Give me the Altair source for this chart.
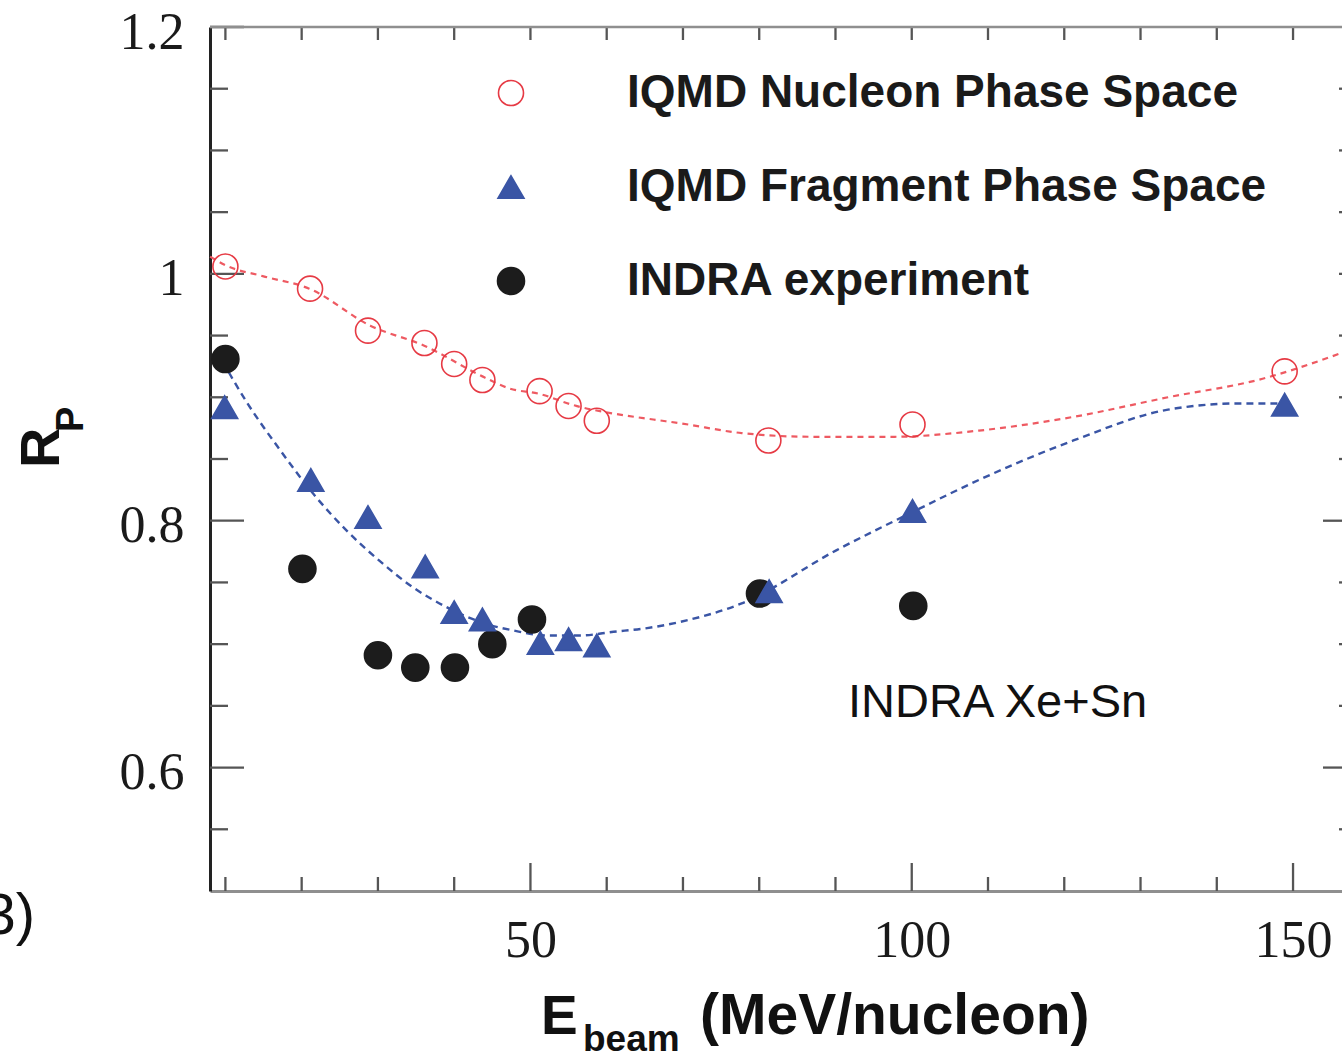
import altair as alt
import pandas as pd

# ---------------- data ----------------
NUC = "IQMD Nucleon Phase Space"
FRAG = "IQMD Fragment Phase Space"
IND = "INDRA experiment"

nuc_x = [10.0, 21.1, 28.7, 36.1, 40.0, 43.7, 51.2, 55.0, 58.7, 81.2, 100.1, 148.9]
nuc_y = [1.006, 0.988, 0.954, 0.944, 0.927, 0.914, 0.905, 0.893, 0.881, 0.865, 0.878, 0.921]

frag_x = [9.9, 21.2, 28.7, 36.2, 40.0, 43.7, 51.3, 55.0, 58.7, 81.3, 100.1, 148.9]
frag_y = [0.892, 0.833, 0.803, 0.763, 0.726, 0.720, 0.701, 0.704, 0.699, 0.743, 0.808, 0.894]

ind_x = [10.0, 20.1, 30.0, 34.9, 40.1, 45.0, 50.2, 80.1, 100.2]
ind_y = [0.931, 0.761, 0.691, 0.681, 0.681, 0.700, 0.720, 0.741, 0.731]

# dashed guide curves
red_curve_x = [8.0, 10.0, 15.0, 21.0, 29.0, 36.0, 44.0, 47.3, 51.0, 56.0, 60.7, 66.1, 69.6,
               77.7, 87.0, 97.5, 108.8, 121.1, 133.6, 146.0, 156.4]
red_curve_y = [1.014, 1.007, 0.998, 0.988, 0.958, 0.942, 0.916, 0.907, 0.903, 0.893, 0.887,
               0.882, 0.879, 0.871, 0.868, 0.868, 0.873, 0.884, 0.900, 0.915, 0.936]

blue_curve_x = [8.9, 12.8, 17.2, 21.5, 25.9, 30.3, 34.6, 39.0, 43.4, 47.8, 52.1, 56.5, 60.9,
                65.3, 69.6, 77.7, 90.1, 100.1, 108.8, 121.2, 133.6, 142.9, 148.5]
blue_curve_y = [0.937, 0.896, 0.857, 0.822, 0.792, 0.767, 0.746, 0.730, 0.718, 0.711, 0.707,
                0.707, 0.710, 0.713, 0.718, 0.733, 0.776, 0.807, 0.833, 0.865, 0.890, 0.895, 0.895]

x_labels = [50, 100, 150]
y_labels = [0.6, 0.8, 1.0, 1.2]
x_minor = [10, 20, 30, 40, 60, 70, 80, 90, 110, 120, 130, 140]
x_major = [50, 100, 150]
y_minor = [0.55, 0.65, 0.7, 0.75, 0.85, 0.9, 0.95, 1.05, 1.1, 1.15]
y_major = [0.6, 0.8, 1.0, 1.2]
y_right_long = [0.6, 0.8]
y_right_short = [0.55, 0.65, 0.7, 0.75, 0.85, 0.9, 0.95, 1.0, 1.05, 1.1, 1.15]

# ---------------- styling ----------------
W, H = 1132, 864
RED = "#e63a44"
RED_LINE = "#ee5a62"
BLUE = "#3a55a5"
BLACK = "#1c1c1c"
TICK = "#555555"
FRAME_GRAY = "#8f8f8f"

xs = alt.Scale(domain=[7.98, 156.42], nice=False, zero=False)
ys = alt.Scale(domain=[0.5, 1.2], nice=False, zero=False)

x_axis = alt.Axis(values=x_labels, title=None, ticks=False, tickSize=0, grid=False,
                  domain=True, domainColor=FRAME_GRAY, domainWidth=3,
                  labelFont="Liberation Serif", labelFontSize=52, labelColor="#1a1a1a",
                  labelPadding=65, labelBaseline="alphabetic", labelFlush=False,
                  labelOverlap=False)
y_axis = alt.Axis(values=y_labels, format="~g", title=None, ticks=False, tickSize=0,
                  grid=False, domain=True, domainColor="#222222", domainWidth=3,
                  labelFont="Liberation Serif", labelFontSize=52, labelColor="#1a1a1a",
                  labelPadding=26, labelBaseline="middle", labelOffset=5,
                  labelFlush=False, labelOverlap=False)


def X(f):
    return alt.X(f, type="quantitative", scale=xs, axis=x_axis)


def Y(f):
    return alt.Y(f, type="quantitative", scale=ys, axis=y_axis)


order = [NUC, FRAG, IND]
pts = pd.DataFrame({
    "x": ind_x + frag_x + nuc_x,
    "y": ind_y + frag_y + nuc_y,
    "series": [IND] * len(ind_x) + [FRAG] * len(frag_x) + [NUC] * len(nuc_x),
})

leg = alt.Legend(orient="none", legendX=278, legendY=43, title=None,
                 labelFont="Liberation Sans", labelFontSize=46, labelFontWeight="bold",
                 labelColor="#1a1a1a", labelLimit=1000, labelOffset=93, rowPadding=48,
                 symbolStrokeWidth=1.6, padding=0, symbolOpacity=1)

points = alt.Chart(pts).mark_point(opacity=1, strokeWidth=1.6).encode(
    x=X("x"),
    y=Y("y"),
    shape=alt.Shape("series:N", scale=alt.Scale(domain=order, range=["circle", "triangle-up", "circle"]), legend=leg),
    fill=alt.Fill("series:N", scale=alt.Scale(domain=order, range=["transparent", BLUE, BLACK]), legend=leg),
    stroke=alt.Stroke("series:N", scale=alt.Scale(domain=order, range=[RED, BLUE, BLACK]), legend=leg),
    size=alt.Size("series:N", scale=alt.Scale(domain=order, range=[625, 729, 625]), legend=leg),
)

red_line = alt.Chart(pd.DataFrame({"x": red_curve_x, "y": red_curve_y})).mark_line(
    color=RED_LINE, strokeWidth=2.2, strokeDash=[6, 5], interpolate="monotone"
).encode(x=X("x"), y=Y("y"))

blue_line = alt.Chart(pd.DataFrame({"x": blue_curve_x, "y": blue_curve_y})).mark_line(
    color=BLUE, strokeWidth=2.4, strokeDash=[7, 5], interpolate="monotone"
).encode(x=X("x"), y=Y("y"))


def xticks(vals, y0, y1):
    return alt.Chart(pd.DataFrame({"v": vals})).mark_rule(color=TICK, strokeWidth=2.3).encode(
        x=X("v"), y=alt.value(y0), y2=alt.value(y1))


def yticks(vals, x0, x1):
    return alt.Chart(pd.DataFrame({"v": vals})).mark_rule(color=TICK, strokeWidth=2.3).encode(
        y=Y("v"), x=alt.value(x0), x2=alt.value(x1))


one = pd.DataFrame({"k": [0]})
top_frame = alt.Chart(one).mark_rule(color=FRAME_GRAY, strokeWidth=2.7).encode(
    x=alt.value(0), x2=alt.value(W), y=alt.value(0))


def label(txt, x, y, size, weight="normal", align="left", angle=0, font="Liberation Sans"):
    return alt.Chart(one).mark_text(text=txt, font=font, fontSize=size, fontWeight=weight,
                                    align=align, baseline="alphabetic", angle=angle,
                                    color="#111111").encode(x=alt.value(x), y=alt.value(y))


texts = [
    label("INDRA Xe+Sn", 638, 690, 47),
    label("3)", -175, 907, 58, align="right"),
    label("E", 331, 1007, 55, weight="bold"),
    label("beam", 373, 1024, 37, weight="bold"),
    label("(MeV/nucleon)", 490, 1007, 57, weight="bold"),
    label("R", -151, 441, 56, weight="bold", angle=270),
    label("P", -127, 405, 38, weight="bold", angle=270),
]

layers = [
    xticks(x_minor, H - 14, H),
    xticks(x_major, H - 28, H),
    xticks(x_minor + x_major, 0, 13),
    yticks(y_minor, 0, 18),
    yticks(y_major, 0, 34),
    yticks(y_right_long, W - 19, W),
    yticks(y_right_short, W - 3, W),
    top_frame,
    red_line,
    blue_line,
    points,
] + texts

chart = alt.layer(*layers).properties(
    width=W,
    height=H,
    autosize=alt.AutoSizeParams(type="none"),
    padding={"left": 210, "top": 27, "right": 0, "bottom": 161},
    background="white",
).configure_view(stroke="transparent")

chart.save("out.html", embed_options={"renderer": "svg", "actions": False})
